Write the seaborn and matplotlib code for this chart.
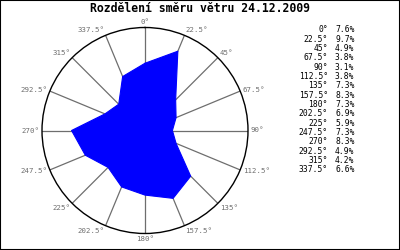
import numpy as np
import pandas as pd
import matplotlib
matplotlib.use("Agg")
import matplotlib.pyplot as plt
import seaborn as sns
from matplotlib.patches import Rectangle

# ---- data ----
directions = [0, 22.5, 45, 67.5, 90, 112.5, 135, 157.5, 180, 202.5, 225, 247.5, 270, 292.5, 315, 337.5]
dir_labels = ["0°", "22.5°", "45°", "67.5°", "90°", "112.5°", "135°", "157.5°",
              "180°", "202.5°", "225°", "247.5°", "270°", "292.5°", "315°", "337.5°"]
percent = [7.6, 9.7, 4.9, 3.8, 3.1, 3.8, 7.3, 8.3, 7.3, 6.9, 5.9, 7.3, 8.3, 4.9, 4.2, 6.6]
title = "Rozdělení směru větru 24.12.2009"

sns.set_theme(style="white")
plt.rcParams['font.family'] = ['DejaVu Sans Mono', 'DejaVu Sans']

W, H = 400, 250
fig = plt.figure(figsize=(W / 100, H / 100), dpi=100)
fig.patch.set_facecolor("white")
fig.patches.append(Rectangle((0, 0), 1, 1, transform=fig.transFigure, fill=False,
                             edgecolor="black", linewidth=1.5, zorder=10))

cx, cy, R = 145, 130.5, 103
ax = fig.add_axes([(cx - R) / W, (H - cy - R) / H, 2 * R / W, 2 * R / H], projection="polar")
ax.set_facecolor("white")
ax.set_theta_zero_location("N")
ax.set_theta_direction(-1)
rmax = max(percent) * 1.2
ax.set_ylim(0, rmax)
ax.set_yticks([])
theta = np.deg2rad(directions)
ax.set_xticks(theta)
ax.set_xticklabels([])
ax.tick_params(axis="x", length=0, pad=0)
ax.xaxis.grid(True, color="#6e6e6e", linewidth=0.9)
ax.yaxis.grid(False)
ax.spines["polar"].set_color("black")
ax.spines["polar"].set_linewidth(1.0)
ax.set_axisbelow(True)

df = pd.DataFrame({"theta": list(theta) + [theta[0]], "r": percent + [percent[0]],
                   "order": range(len(percent) + 1)})
ax.fill(df["theta"], df["r"], color="#0000ff", zorder=3, linewidth=0)
sns.lineplot(data=df, x="theta", y="r", sort=False, ax=ax, color="#0000ff",
             linewidth=0.8, zorder=4, estimator=None)
ax.set_xlabel("")
ax.set_ylabel("")

for t, lab in zip(theta, dir_labels):
    s, c = np.sin(t), np.cos(t)
    ha = "left" if s > 0.1 else ("right" if s < -0.1 else "center")
    va = "bottom" if c > 0.5 else ("top" if c < -0.5 else "center")
    ax.annotate(lab, xy=(t, rmax), xytext=(2 * s, 2 * c), textcoords="offset points",
                ha=ha, va=va, fontsize=5.3, color="#6e6e6e", annotation_clip=False)

fig.text(0.5, 1 - 9 / H, title, ha="center", va="center", fontsize=8.3,
         fontweight="bold", color="black")

y0, dy = 30, 9.33
for i, (lab, p) in enumerate(zip(dir_labels, percent)):
    y = 1 - (y0 + i * dy) / H
    fig.text(328 / W, y, lab, ha="right", va="center", fontsize=5.8, color="black")
    fig.text(335 / W, y, f"{p:.1f}%", ha="left", va="center", fontsize=5.8, color="black")

fig.savefig("out.png", dpi=100)
